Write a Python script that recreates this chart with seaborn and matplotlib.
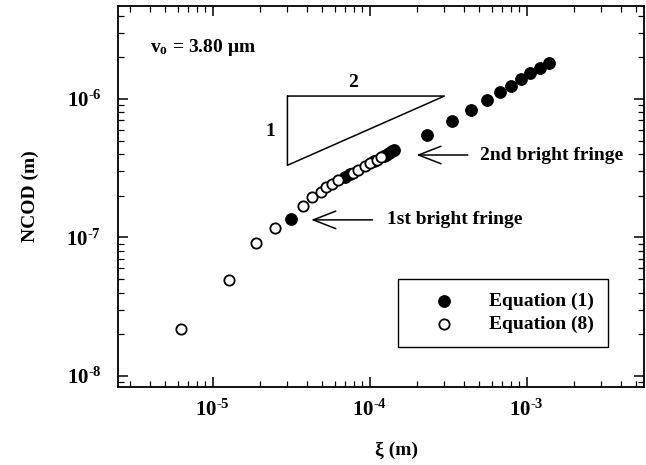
import matplotlib
matplotlib.use("Agg")
import matplotlib.pyplot as plt
import seaborn as sns
import numpy as np
import pandas as pd

# Equation (1): crack-opening values at the bright fringes
xi_eq1 = [3.16e-5, 7.03e-5, 7.5e-5, 1.07e-4, 1.23e-4, 1.28e-4, 1.34e-4, 1.40e-4, 1.44e-4,
          2.31e-4, 3.37e-4, 4.45e-4, 5.62e-4, 6.73e-4, 8.0e-4, 9.25e-4, 1.06e-3, 1.22e-3, 1.40e-3]
ncod_eq1 = [1.36e-7, 2.75e-7, 2.85e-7, 3.55e-7, 3.87e-7, 3.97e-7, 4.08e-7, 4.20e-7, 4.27e-7,
            5.52e-7, 6.97e-7, 8.33e-7, 9.84e-7, 1.12e-6, 1.25e-6, 1.39e-6, 1.55e-6, 1.68e-6, 1.81e-6]

# Equation (8): near-tip profile
xi_eq8 = [6.3e-6, 1.27e-5, 1.9e-5, 2.5e-5, 3.79e-5, 4.3e-5, 4.88e-5, 5.32e-5, 5.78e-5, 6.32e-5,
          7.8e-5, 8.5e-5, 9.3e-5, 1.01e-4, 1.11e-4, 1.19e-4]
ncod_eq8 = [2.18e-8, 4.9e-8, 9.1e-8, 1.18e-7, 1.69e-7, 1.95e-7, 2.14e-7, 2.30e-7, 2.43e-7, 2.60e-7,
            2.93e-7, 3.09e-7, 3.26e-7, 3.44e-7, 3.63e-7, 3.80e-7]

legend_labels = ["Equation (1)", "Equation (8)"]

sns.set_style("ticks")
plt.rcParams.update({
    "font.family": ["Liberation Serif", "DejaVu Serif"],
    "font.weight": "bold",
    "font.size": 14,
    "axes.labelweight": "bold",
    "text.color": "black",
    "axes.labelcolor": "black",
    "axes.edgecolor": "black",
    "xtick.color": "black",
    "ytick.color": "black",
    "axes.unicode_minus": False,
    "mathtext.fontset": "custom",
    "mathtext.rm": "Liberation Serif:bold",
    "mathtext.bf": "Liberation Serif:bold",
    "mathtext.it": "Liberation Serif:italic:bold",
    "axes.linewidth": 1.3,
})

fig = plt.figure(figsize=(6.46, 4.65), dpi=100)
ax = fig.add_axes([0.18266, 0.16774, 0.8142, 0.81935])

df1 = pd.DataFrame({"xi": xi_eq1, "ncod": ncod_eq1})
df8 = pd.DataFrame({"xi": xi_eq8, "ncod": ncod_eq8})

sns.scatterplot(data=df1, x="xi", y="ncod", ax=ax, marker="o", s=70,
                color="black", edgecolor="black", linewidth=0.8, zorder=3,
                label=legend_labels[0])
sns.scatterplot(data=df8, x="xi", y="ncod", ax=ax, marker="o", s=55,
                facecolor="white", edgecolor="black", linewidth=1.3, zorder=4,
                label=legend_labels[1])

ax.set_xscale("log")
ax.set_yscale("log")
ax.set_xlim(2.5e-6, 5.6e-3)
ax.set_ylim(8.33e-9, 4.69e-6)


def decade_label(val, pos):
    exp = int(round(np.log10(val)))
    return r"$\mathdefault{10^{\text{%d}}}$" % exp


ax.xaxis.set_major_formatter(matplotlib.ticker.FuncFormatter(decade_label))
ax.yaxis.set_major_formatter(matplotlib.ticker.FuncFormatter(decade_label))
ax.xaxis.set_minor_formatter(matplotlib.ticker.NullFormatter())
ax.yaxis.set_minor_formatter(matplotlib.ticker.NullFormatter())

ax.tick_params(which="both", direction="in", top=True, right=True, colors="black",
               labelcolor="black")
ax.tick_params(which="major", length=7, width=1.1, pad=9, labelsize=15)
ax.tick_params(axis="y", which="major", pad=12)
ax.tick_params(which="minor", length=4, width=0.9)

ax.set_xlabel("ξ (m)", fontsize=14, fontweight="bold", color="black")
ax.set_ylabel("NCOD (m)", fontsize=14, fontweight="bold", color="black")
ax.xaxis.label.set_va("center")
ax.yaxis.label.set_va("center")
ax.xaxis.set_label_coords(0.53, -0.165)
ax.yaxis.set_label_coords(-0.167, 0.5)

# slope 1:2 guide triangle
tri_x = [3e-5, 3e-4, 3e-5, 3e-5]
tri_y = [1.05e-6, 1.05e-6, 3.32e-7, 1.05e-6]
ax.plot(tri_x, tri_y, color="black", lw=1.1)
ax.text(7.8e-5, 1.31e-6, "2", ha="center", va="center", fontsize=14)
ax.text(2.34e-5, 5.78e-7, "1", ha="center", va="center", fontsize=14)

ax.text(0.061, 0.892, r"v$_\mathrm{o}$ = 3.80 μm", transform=ax.transAxes,
        ha="left", va="center", fontsize=14)

arrow_kw = dict(arrowstyle="->,head_length=0.9,head_width=0.35", lw=1.1,
                color="black", mutation_scale=18)
ax.annotate("", xy=(4.08e-5, 1.34e-7), xytext=(1.09e-4, 1.34e-7), arrowprops=arrow_kw)
ax.text(1.30e-4, 1.34e-7, "1st bright fringe", ha="left", va="center", fontsize=14)
ax.annotate("", xy=(1.91e-4, 3.94e-7), xytext=(4.40e-4, 3.94e-7), arrowprops=arrow_kw)
ax.text(5.09e-4, 3.94e-7, "2nd bright fringe", ha="left", va="center", fontsize=14)

leg = ax.legend(loc="upper left", bbox_to_anchor=(0.532, 0.283), borderaxespad=0,
                frameon=True, fancybox=False, edgecolor="black", framealpha=1,
                handlelength=3.4, handletextpad=0.6, borderpad=0.7, labelspacing=0.25,
                fontsize=14)
leg.get_frame().set_linewidth(1.0)
for t in leg.get_texts():
    t.set_color("black")

fig.savefig("out.png", dpi=100)
